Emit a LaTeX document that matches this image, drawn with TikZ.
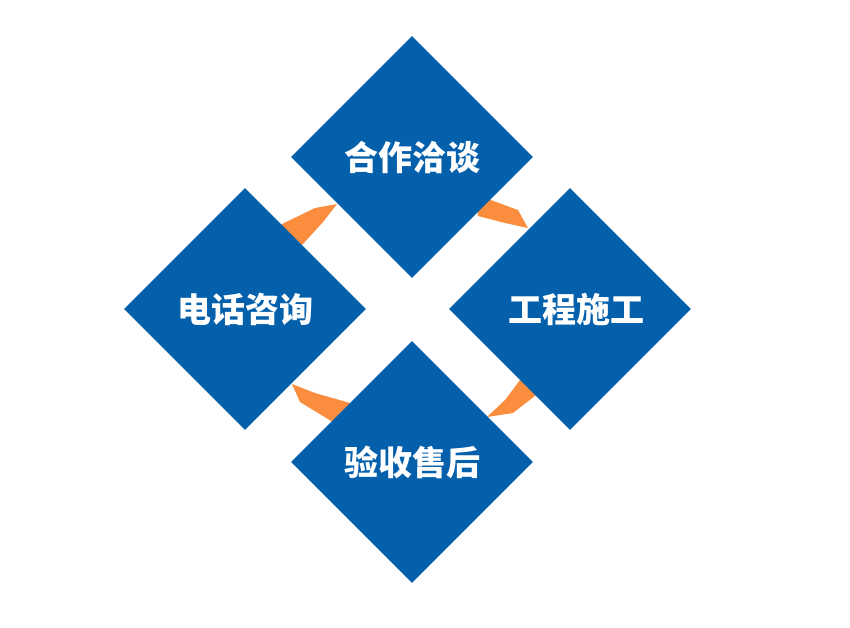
\documentclass[tikz,border=0pt]{standalone}
\usepackage{fontspec}
\newfontfamily\cjk{Noto Sans CJK SC}
\usetikzlibrary{shapes.geometric}
\definecolor{dblue}{RGB}{5,96,172}
\definecolor{dorange}{RGB}{250,142,62}
\tikzset{
  stage/.style={diamond, fill=dblue, draw=none, minimum width=242pt, minimum height=242pt,
    inner sep=0pt, text=white, font=\cjk\bfseries\fontsize{34}{34}\selectfont},
  link/.style={fill=dorange, draw=none}
}
\begin{document}
\begin{tikzpicture}[x=1pt,y=-1pt]
\useasboundingbox (0,0) rectangle (850,627);
% connectors (under diamonds)
\fill[link] (280,225) -- (315,208) -- (337,204) -- (323,222) -- (302,245) -- cycle;
\fill[link] (476,202) -- (488,199) -- (518,210) -- (528,228) -- (505,223) -- (478,216) -- cycle;
\fill[link] (292,384) -- (315,393) -- (350,403) -- (336,424) -- (300,402) -- cycle;
\fill[link] (487,417) -- (505,400) -- (520,380) -- (540,392) -- (513,413) -- cycle;
% diamonds
\node[stage] (talk) at (412,157) {合作洽谈};
\node[stage] (call) at (245,309) {电话咨询};
\node[stage] (build) at (570,309) {\hspace{12pt}工程施工};
\node[stage] (after) at (412,462) {验收售后};
\end{tikzpicture}
\end{document}
